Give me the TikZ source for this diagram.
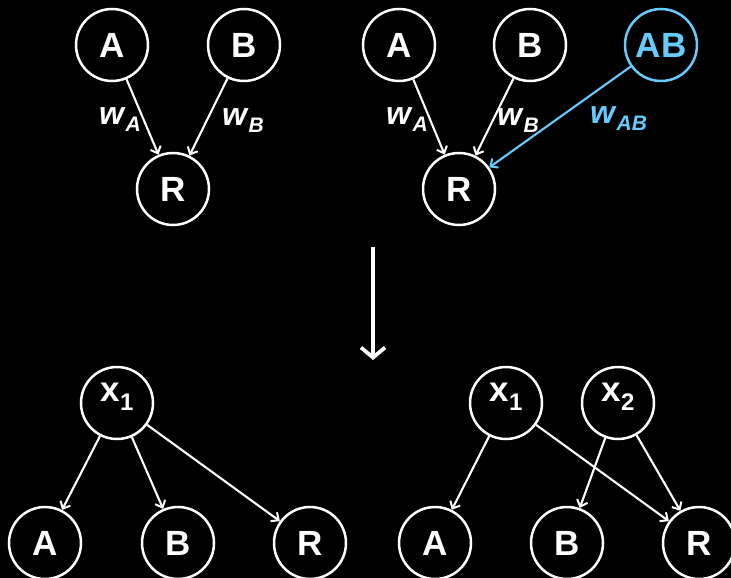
\documentclass[tikz,border=0pt]{standalone}
\usepackage{fontspec}
\setmainfont{Liberation Sans}
\usetikzlibrary{arrows.meta}
\definecolor{skyblue}{RGB}{102,204,255}

\tikzset{
  vnode/.style={circle, draw=white, line width=2.5pt, minimum size=72pt, inner sep=0pt,
    text=white, font=\fontsize{35}{35}\selectfont\bfseries},
  latent/.style={vnode, text height=20pt, text depth=24pt},
  link/.style={draw=white, line width=2.1pt, -{Straight Barb[length=6pt,width=11pt,line width=2pt]}},
  wlabel/.style={anchor=base west, inner sep=0pt, text=white,
    font=\fontsize{32}{32}\selectfont\bfseries\itshape},
}
\newcommand{\wsub}[1]{w\kern1.5pt\raisebox{-7pt}{\fontsize{21}{21}\selectfont #1}}
\newcommand{\xsub}[1]{x\raisebox{-9pt}{\fontsize{24}{24}\selectfont #1}}

\begin{document}
\begin{tikzpicture}[x=1pt, y=-1pt]
  \fill[black] (0,0) rectangle (731,578);
  \useasboundingbox (0,0) rectangle (731,578);

  % additive model: A and B
  \node[vnode] (a1) at (112,45) {A};
  \node[vnode] (b1) at (244,45) {B};
  \node[vnode] (r1) at (173,189) {R};
  \draw[link] (a1) -- (r1);
  \draw[link] (b1) -- (r1);
  \node[wlabel] (wa1) at (99,124) {\wsub{A}};
  \node[wlabel] (wb1) at (222,125) {\wsub{B}};

  % model with interaction term AB
  \node[vnode] (a2) at (399,45) {A};
  \node[vnode] (b2) at (530,45) {B};
  \node[vnode, draw=skyblue, text=skyblue] (ab2) at (661,45) {AB};
  \node[vnode] (r2) at (459,189) {R};
  \draw[link] (a2) -- (r2);
  \draw[link] (b2) -- (r2);
  \draw[link, draw=skyblue] (ab2) -- (r2);
  \node[wlabel] (wa2) at (386,124) {\wsub{A}};
  \node[wlabel] (wb2) at (497,125) {\wsub{B}};
  \node[wlabel, text=skyblue] (wab2) at (590,123) {\wsub{AB}};

  % transformation arrow
  \coordinate (arrtop) at (373,247);
  \coordinate (arrbot) at (373,360);
  \draw[white, line width=3.8pt, -{Straight Barb[length=10pt,width=24pt,line width=3.8pt]}] (arrtop) -- (arrbot);

  % latent factor x1 only
  \node[latent] (x1l) at (117,403) {\xsub{1}};
  \node[vnode] (a3) at (45,543) {A};
  \node[vnode] (b3) at (178,543) {B};
  \node[vnode] (r3) at (310,543) {R};
  \draw[link] (x1l) -- (a3);
  \draw[link] (x1l) -- (b3);
  \draw[link] (x1l) -- (r3);

  % latent factors x1 and x2
  \node[latent] (x1r) at (506,403) {\xsub{1}};
  \node[latent] (x2r) at (618,403) {\xsub{2}};
  \node[vnode] (a4) at (435,543) {A};
  \node[vnode] (b4) at (567,543) {B};
  \node[vnode] (r4) at (699,543) {R};
  \draw[link] (x1r) -- (a4);
  \draw[link] (x1r) -- (r4);
  \draw[link] (x2r) -- (b4);
  \draw[link] (x2r) -- (r4);
\end{tikzpicture}
\end{document}
